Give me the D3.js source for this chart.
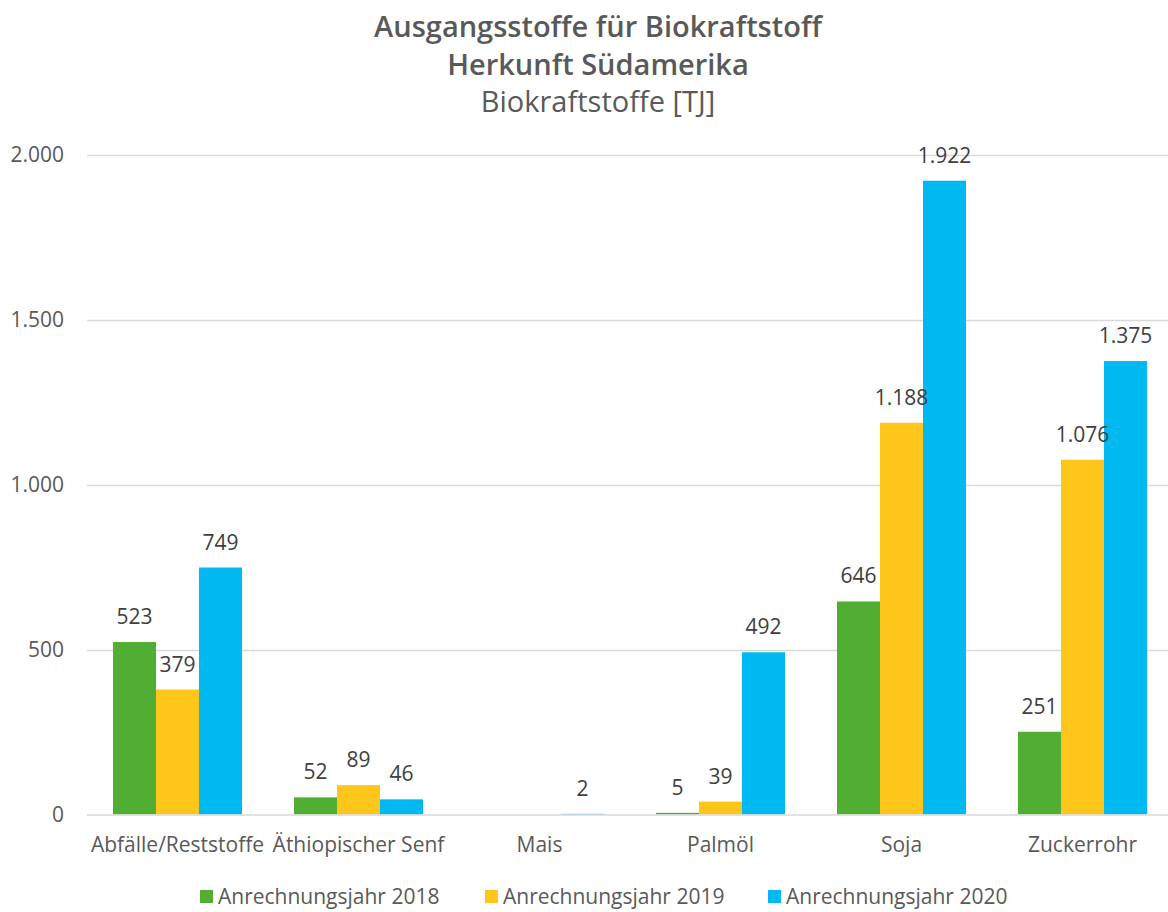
<!DOCTYPE html>
<html>
<head>
<meta charset="utf-8">
<script src="https://cdn.jsdelivr.net/npm/d3@7"></script>
<style>
  body { margin: 0; background: #fff; }
  text { font-family: "Open Sans", sans-serif; }
  .title { fill: #595959; }
</style>
</head>
<body>
<svg id="chart" width="1168" height="912"></svg>
<script>
  var categories = ["Abfälle/Reststoffe", "Äthiopischer Senf", "Mais", "Palmöl", "Soja", "Zuckerrohr"];
  var seriesNames = ["Anrechnungsjahr 2018", "Anrechnungsjahr 2019", "Anrechnungsjahr 2020"];
  var values2018 = [523, 52, null, 5, 646, 251];
  var values2019 = [379, 89, null, 39, 1188, 1076];
  var values2020 = [749, 46, 2, 492, 1922, 1375];
  var yTicks = [0, 500, 1000, 1500, 2000];
  var colors = ["#52ae32", "#fec61b", "#00b9f1"];

  var series = [values2018, values2019, values2020];

  var svg = d3.select("#chart"),
      margin = {top: 155, left: 87, bottom: 98},
      height = 912 - margin.top - margin.bottom,
      step = 181;

  var fmt = function(v) { return d3.format(",")(v).replace(/,/g, "."); };

  var x = d3.scaleBand()
      .domain(categories)
      .range([margin.left, margin.left + step * categories.length])
      .paddingInner(0.287)
      .paddingOuter(0.1435);

  var x1 = d3.scaleBand()
      .domain(d3.range(series.length))
      .range([0, x.bandwidth()]);

  var y = d3.scaleLinear().domain([0, 2000]).range([margin.top + height + 0.5, margin.top]);

  // titel
  var title = svg.append("g").attr("class", "title").attr("text-anchor", "middle");
  title.append("text").attr("x", 598).attr("y", 37).style("font-size", "29px").style("font-weight", "600").text("Ausgangsstoffe für Biokraftstoff");
  title.append("text").attr("x", 598).attr("y", 75).style("font-size", "29px").style("font-weight", "600").text("Herkunft Südamerika");
  title.append("text").attr("x", 598).attr("y", 112).style("font-size", "29px").text("Biokraftstoffe [TJ]");

  // gridlines + y labels
  svg.append("g").selectAll("line")
      .data(yTicks.slice(1))
    .enter().append("line")
      .attr("x1", margin.left).attr("x2", 1168)
      .attr("y1", function(d) { return Math.round(y(d)) + 0.5; })
      .attr("y2", function(d) { return Math.round(y(d)) + 0.5; })
      .attr("stroke", "#d9d9d9").attr("stroke-width", 1.5);

  svg.append("g").selectAll("text")
      .data(yTicks)
    .enter().append("text")
      .attr("x", 64).attr("y", function(d) { return y(d); })
      .attr("dy", "0.35em")
      .attr("text-anchor", "end")
      .style("font-size", "21px").attr("fill", "#595959")
      .text(fmt);

  // bars
  var groups = svg.append("g").selectAll("g")
      .data(categories)
    .enter().append("g")
      .attr("transform", function(d) { return "translate(" + x(d) + ",0)"; });

  groups.selectAll("rect")
      .data(function(d, i) { return series.map(function(s, j) { return {s: j, v: s[i]}; }); })
    .enter().filter(function(d) { return d.v != null; }).append("rect")
      .attr("x", function(d) { return x1(d.s); })
      .attr("width", x1.bandwidth())
      .attr("y", function(d) { return y(d.v); })
      .attr("height", function(d) { return y(0) - y(d.v); })
      .attr("fill", function(d) { return colors[d.s]; });

  groups.selectAll("text.lbl")
      .data(function(d, i) { return series.map(function(s, j) { return {s: j, v: s[i]}; }); })
    .enter().filter(function(d) { return d.v != null; }).append("text")
      .attr("class", "lbl")
      .attr("x", function(d) { return x1(d.s) + x1.bandwidth() / 2; })
      .attr("y", function(d) { return y(d.v) - 18; })
      .attr("text-anchor", "middle")
      .style("font-size", "21px").attr("fill", "#404040")
      .text(function(d) { return fmt(d.v); });

  // baseline
  svg.append("line")
      .attr("x1", margin.left).attr("x2", 1168)
      .attr("y1", y(0) + 0.5).attr("y2", y(0) + 0.5)
      .attr("stroke", "#d9d9d9").attr("stroke-width", 1.5);

  // x labels
  svg.append("g").selectAll("text")
      .data(categories)
    .enter().append("text")
      .attr("x", function(d) { return x(d) + x.bandwidth() / 2; })
      .attr("y", 852)
      .attr("text-anchor", "middle")
      .style("font-size", "21px").attr("fill", "#595959")
      .text(function(d) { return d; });

  // legend
  var legendX = [200, 485, 768];
  var legend = svg.append("g").selectAll("g")
      .data(seriesNames)
    .enter().append("g")
      .attr("transform", function(d, i) { return "translate(" + legendX[i] + ",890)"; });
  legend.append("rect").attr("width", 13).attr("height", 13)
      .attr("fill", function(d, i) { return colors[i]; });
  legend.append("text").attr("x", 18).attr("y", 6.5).attr("dy", "0.35em")
      .style("font-size", "21px").attr("fill", "#595959")
      .text(function(d) { return d; });
</script>
</body>
</html>
